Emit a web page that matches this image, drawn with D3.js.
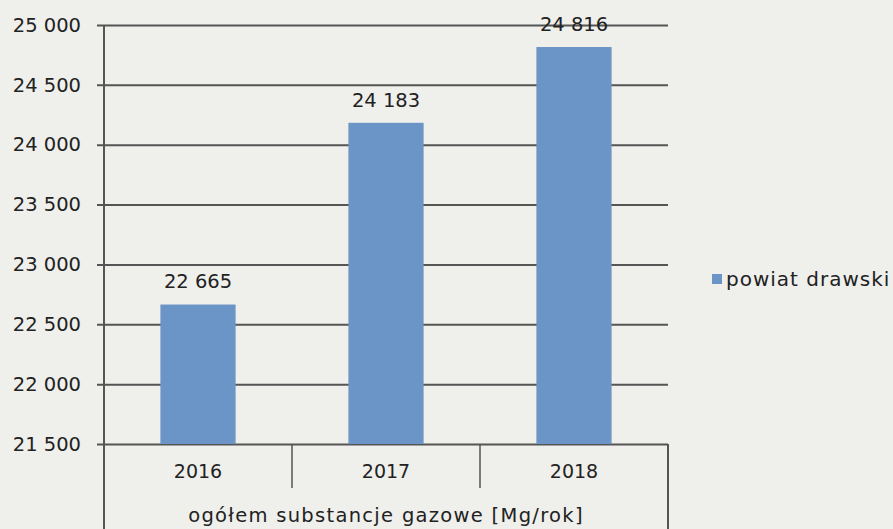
<!DOCTYPE html>
<html>
<head>
<meta charset="utf-8">
<script src="https://cdn.jsdelivr.net/npm/d3@7"></script>
<style>
  body { margin: 0; background: #efefec; }
  text { font-family: "DejaVu Sans", sans-serif; fill: #222; }
</style>
</head>
<body>
<div id="chart"></div>
<script>
// data
var years = ["2016", "2017", "2018"];
var values = [22665, 24183, 24816];
var yTicks = [21500, 22000, 22500, 23000, 23500, 24000, 24500, 25000];
var seriesName = "powiat drawski";
var axisTitle = "ogółem substancje gazowe [Mg/rok]";

var margin = {top: 25, right: 225, bottom: 85, left: 104},
    width = 893 - margin.left - margin.right,
    height = 529 - margin.top - margin.bottom;

var x = d3.scaleBand()
    .domain(years)
    .range([0, width])
    .paddingInner(0.6)
    .paddingOuter(0.3);
var y = d3.scaleLinear()
    .domain([21500, 25000])
    .range([height, 0]);

var svg = d3.select("#chart").append("svg")
    .attr("width", 893)
    .attr("height", 529)
  .append("g")
    .attr("transform", "translate(" + margin.left + "," + margin.top + ")");

var lineColor = "#555";
var fmt = function(d) { return d3.format(",")(d).replace(",", " "); };

// gridlines + y axis labels
var yAxis = svg.append("g")
    .call(d3.axisLeft(y).tickValues(yTicks).tickSize(0).tickFormat(fmt));
yAxis.select(".domain").remove();
yAxis.selectAll("line")
    .attr("x1", -7).attr("x2", width)
    .attr("stroke", lineColor).attr("stroke-width", 2);
yAxis.selectAll("text")
    .attr("x", -23)
    .style("font-size", "19.5px")
    .style("font-family", "'DejaVu Sans', sans-serif")
    .attr("fill", "#222");

// bars
svg.selectAll(".bar")
    .data(values)
  .enter().append("rect")
    .attr("class", "bar")
    .attr("x", function(d, i) { return x(years[i]); })
    .attr("width", x.bandwidth())
    .attr("y", function(d) { return y(d); })
    .attr("height", function(d) { return height - y(d); })
    .style("fill", "#6b95c6");

// value labels
svg.selectAll(".val")
    .data(values)
  .enter().append("text")
    .attr("x", function(d, i) { return x(years[i]) + x.bandwidth() / 2; })
    .attr("y", function(d) { return y(d) - 23; })
    .attr("dy", "0.35em")
    .attr("text-anchor", "middle")
    .style("font-size", "19.5px")
    .text(fmt);

// left axis line, running down through the table
svg.append("line")
    .attr("x1", 0).attr("x2", 0)
    .attr("y1", 0).attr("y2", 529 - margin.top)
    .attr("stroke", lineColor).attr("stroke-width", 2);

// right border of the table
svg.append("line")
    .attr("x1", width).attr("x2", width)
    .attr("y1", height).attr("y2", 529 - margin.top)
    .attr("stroke", lineColor).attr("stroke-width", 2);

// separators between categories
var step = x.step();
svg.selectAll(".sep")
    .data(years.slice(1))
  .enter().append("line")
    .attr("x1", function(d, i) { return (i + 1) * step; })
    .attr("x2", function(d, i) { return (i + 1) * step; })
    .attr("y1", height)
    .attr("y2", height + 44)
    .attr("stroke", lineColor).attr("stroke-width", 1.5);

// category labels
svg.selectAll(".cat")
    .data(years)
  .enter().append("text")
    .attr("x", function(d) { return x(d) + x.bandwidth() / 2; })
    .attr("y", height + 27)
    .attr("dy", "0.35em")
    .attr("text-anchor", "middle")
    .style("font-size", "19px")
    .text(function(d) { return d; });

// axis title
svg.append("text")
    .attr("x", width / 2)
    .attr("y", height + 71)
    .attr("dy", "0.35em")
    .attr("text-anchor", "middle")
    .style("font-size", "19.5px")
    .style("letter-spacing", "1.3px")
    .text(axisTitle);

// legend
var legend = svg.append("g")
    .attr("transform", "translate(" + (712 - margin.left) + "," + (279 - margin.top) + ")");
legend.append("rect")
    .attr("x", 0).attr("y", -5)
    .attr("width", 10).attr("height", 10)
    .style("fill", "#6b95c6");
legend.append("text")
    .attr("x", 14)
    .attr("dy", "0.35em")
    .style("font-size", "20px")
    .style("letter-spacing", "1px")
    .text(seriesName);
</script>
</body>
</html>
